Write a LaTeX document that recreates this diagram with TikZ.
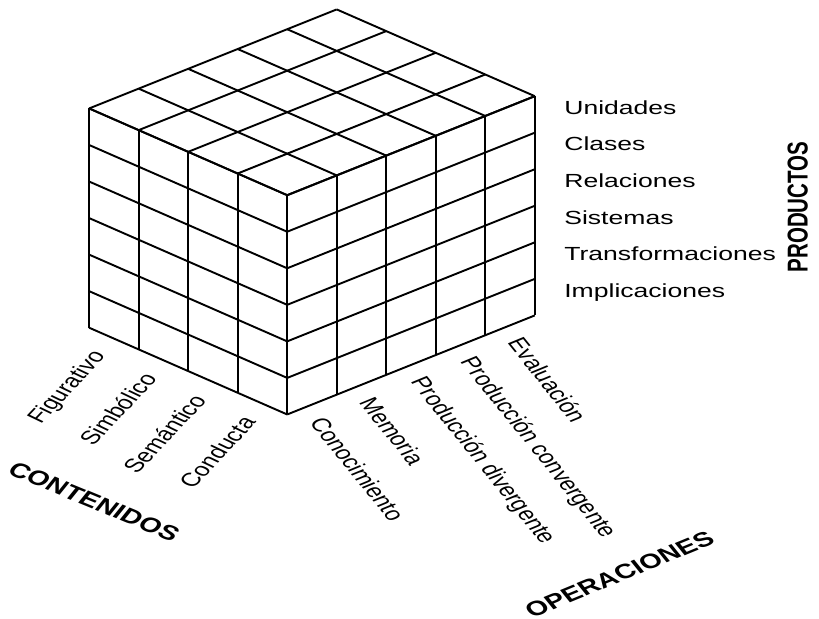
\documentclass[tikz,border=0pt]{standalone}
\usepackage{fontspec}
\setmainfont{Liberation Sans}
\begin{document}
\begin{tikzpicture}[line width=1.1pt, line join=round,
    etich/.style={font=\fontsize{10.9}{13}\selectfont, inner sep=0pt, xscale=1.4},
    titolo/.style={font=\fontsize{11.8}{14}\selectfont\bfseries, inner sep=0pt, xscale=1.4}]
        \useasboundingbox (-5.80,-4.12) rectangle (10.74,8.37);

        % Faccia sinistra (contenuti)
        \foreach \i in {0,...,4}
            \draw (-\i,{0.438*\i}) -- ++(0,{6*0.738});
        \foreach \j in {0,...,6}
            \draw (0,{0.738*\j}) -- ++(-4,1.752);

        % Faccia destra (operazioni)
        \foreach \k in {0,...,5}
            \draw (\k,{0.4*\k}) -- ++(0,{6*0.738});
        \foreach \j in {0,...,6}
            \draw (0,{0.738*\j}) -- ++(5,2);

        % Faccia superiore
        \foreach \i in {0,...,4}
            \draw (-\i,{4.428+0.438*\i}) -- ++(5,2);
        \foreach \k in {0,...,5}
            \draw (\k,{4.428+0.4*\k}) -- ++(-4,1.752);

        % Etichette contenuti
        \foreach \n/\t [count=\i] in {fig/Figurativo, sim/Simbólico, sem/Semántico, cond/Conducta}
            \node[etich, rotate=56, anchor=east] (\n) at ({\i-4.5-0.26},{0.438*(4.5-\i)-0.28}) {\t};

        % Etichette operazioni
        \foreach \n/\t [count=\k] in {cono/Conocimiento, mem/Memoria, div/Producción divergente, conv/Producción convergente, eval/Evaluación}
            \node[etich, rotate=-60, anchor=west] (\n) at ({\k-0.5+0.09},{0.4*(\k-0.5)-0.27}) {\t};

        % Etichette prodotti
        \foreach \n/\t [count=\j] in {uni/Unidades, cla/Clases, rel/Relaciones, sis/Sistemas, tra/Transformaciones, imp/Implicaciones}
            \node[etich, anchor=base west] (\n) at (5.57,{2+0.738*(6.5-\j)}) {\t};

        % Titoli degli assi
        \node[titolo, rotate=-30] (contenidos) at (-3.90,-1.76) {CONTENIDOS};
        \node[titolo, rotate=30] (operaciones) at (6.71,-3.23) {OPERACIONES};
        \node[titolo, rotate=90] (productos) at (10.31,4.19) {PRODUCTOS};
    \end{tikzpicture}
\end{document}
